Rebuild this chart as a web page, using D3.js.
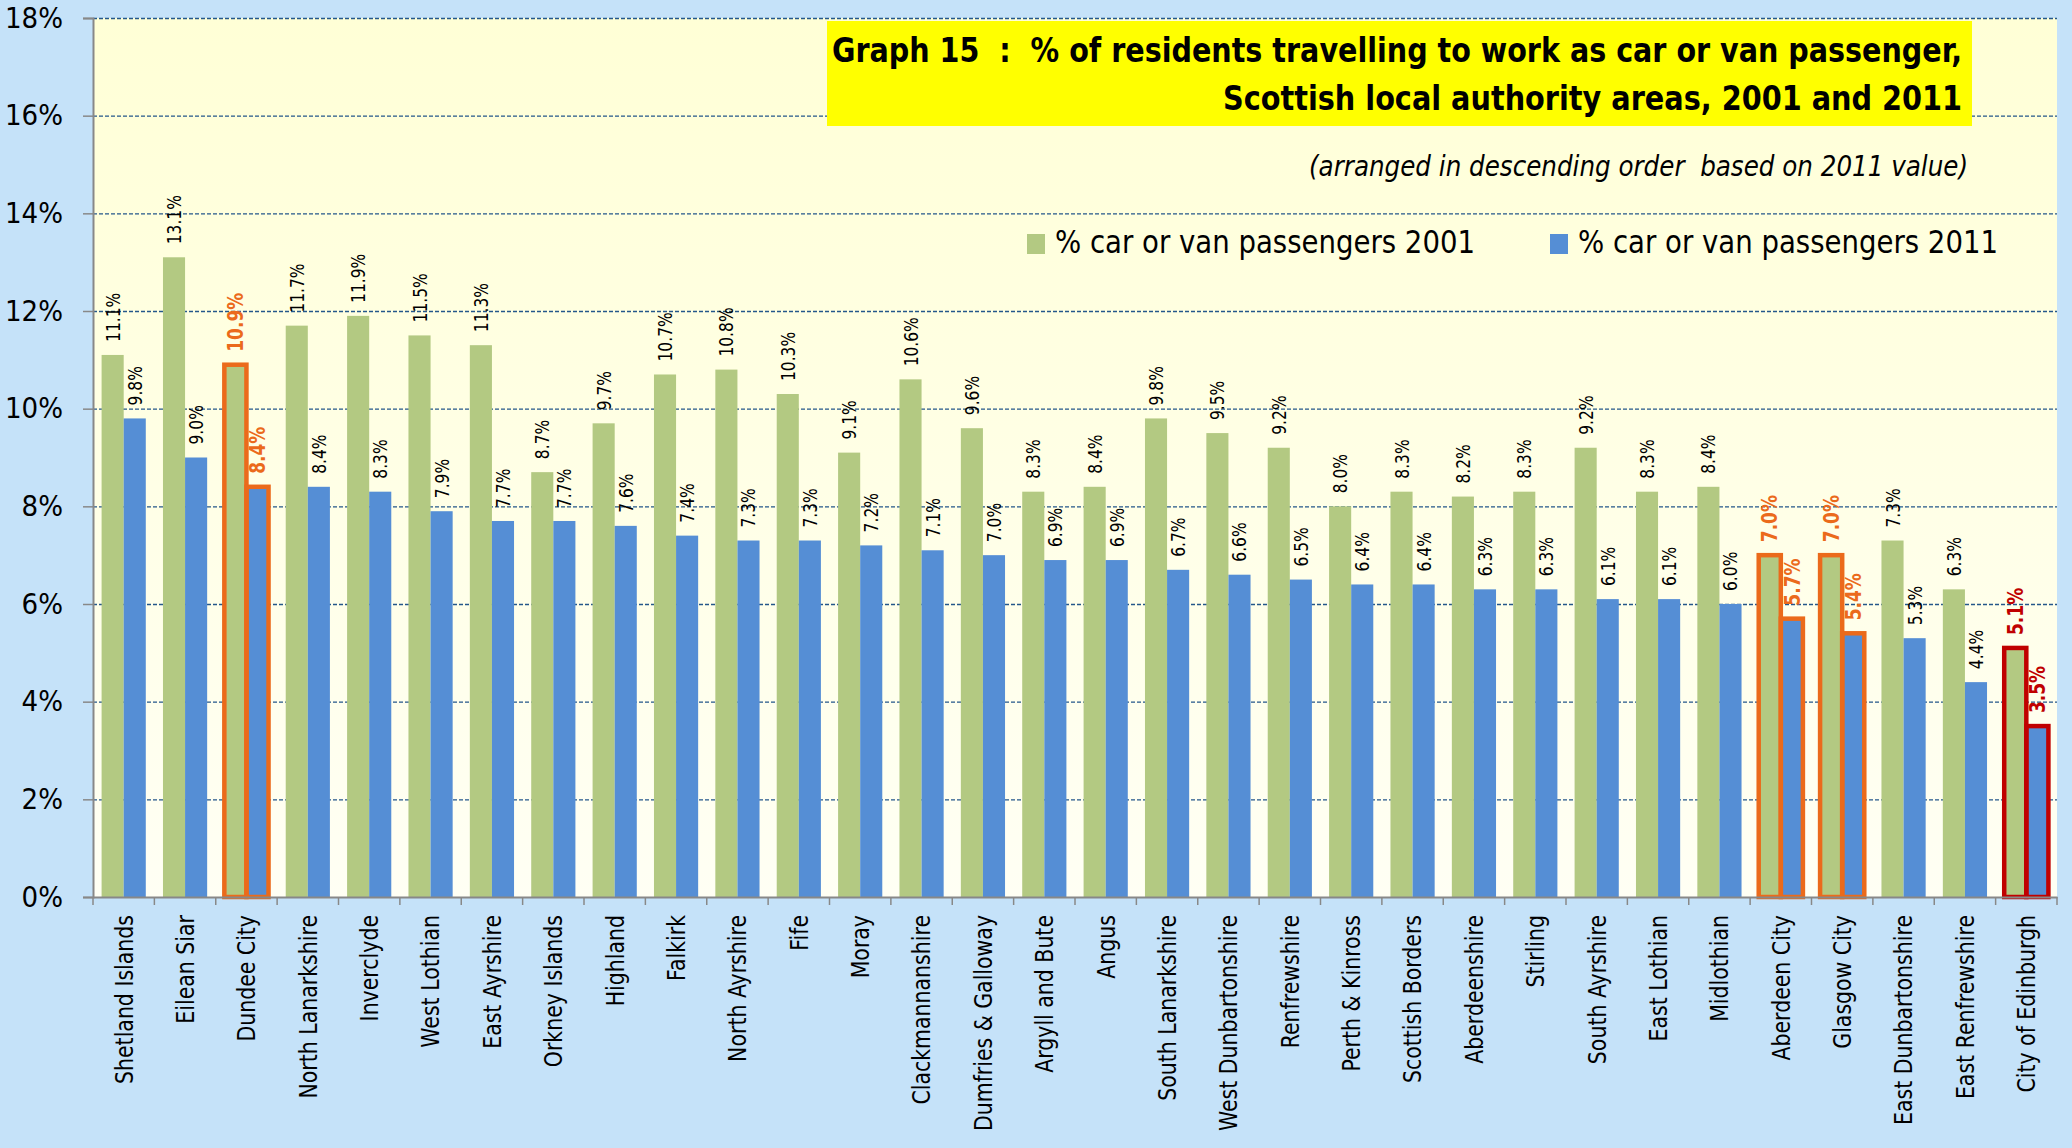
<!DOCTYPE html>
<html>
<head>
<meta charset="utf-8">
<script src="https://cdn.jsdelivr.net/npm/d3@7"></script>
<style>
  body { margin: 0; background: #c5e2f9; }
  svg { display: block; }
</style>
</head>
<body>
<script>
// areas, in descending order of the 2011 value
const categories = [
  "Shetland Islands", "Eilean Siar", "Dundee City", "North Lanarkshire", "Inverclyde",
  "West Lothian", "East Ayrshire", "Orkney Islands", "Highland", "Falkirk",
  "North Ayrshire", "Fife", "Moray", "Clackmannanshire", "Dumfries & Galloway",
  "Argyll and Bute", "Angus", "South Lanarkshire", "West Dunbartonshire", "Renfrewshire",
  "Perth & Kinross", "Scottish Borders", "Aberdeenshire", "Stirling", "South Ayrshire",
  "East Lothian", "Midlothian", "Aberdeen City", "Glasgow City", "East Dunbartonshire",
  "East Renfrewshire", "City of Edinburgh"
];
const values2001 = [
  11.1, 13.1, 10.9, 11.7, 11.9, 11.5, 11.3, 8.7, 9.7, 10.7,
  10.8, 10.3, 9.1, 10.6, 9.6, 8.3, 8.4, 9.8, 9.5, 9.2,
  8.0, 8.3, 8.2, 8.3, 9.2, 8.3, 8.4, 7.0, 7.0, 7.3,
  6.3, 5.1
];
const values2011 = [
  9.8, 9.0, 8.4, 8.4, 8.3, 7.9, 7.7, 7.7, 7.6, 7.4,
  7.3, 7.3, 7.2, 7.1, 7.0, 6.9, 6.9, 6.7, 6.6, 6.5,
  6.4, 6.4, 6.3, 6.3, 6.1, 6.1, 6.0, 5.7, 5.4, 5.3,
  4.4, 3.5
];
const seriesNames = ["% car or van passengers 2001", "% car or van passengers 2011"];
const yTicks = [0, 2, 4, 6, 8, 10, 12, 14, 16, 18];
const orangeAreas = ["Dundee City", "Aberdeen City", "Glasgow City"];
const redAreas = ["City of Edinburgh"];

const W = 2072, H = 1148;
const plotL = 93, plotR = 2057, plotT = 18, plotB = 897;
const colors = ["#b3c982", "#558ed5"];
const narrow = "'Liberation Sans Narrow', 'DejaVu Sans Condensed', sans-serif";
const stretch = 1.25; // rotated labels look tall in the original

const svg = d3.select("body").append("svg")
  .attr("width", W)
  .attr("height", H);

const defs = svg.append("defs");
const grad = defs.append("linearGradient")
  .attr("id", "plotbg")
  .attr("x1", 0).attr("y1", 0).attr("x2", 0).attr("y2", 1);
grad.append("stop").attr("offset", "0%").attr("stop-color", "#ffffd6");
grad.append("stop").attr("offset", "100%").attr("stop-color", "#fffff4");

svg.append("rect")
  .attr("width", W).attr("height", H)
  .attr("fill", "#c5e2f9");

svg.append("rect")
  .attr("x", plotL).attr("y", plotT)
  .attr("width", plotR - plotL).attr("height", plotB - plotT)
  .attr("fill", "url(#plotbg)");

const x0 = d3.scaleBand()
  .domain(categories)
  .range([plotL, plotR])
  .paddingInner(0.28)
  .paddingOuter(0.14);
const x1 = d3.scaleBand()
  .domain([0, 1])
  .range([0, x0.bandwidth()]);
const y = d3.scaleLinear()
  .domain([0, 18])
  .range([plotB, plotT]);

// dashed gridlines
const grid = svg.append("g")
  .attr("transform", `translate(${plotL},0)`)
  .call(d3.axisLeft(y).tickValues(yTicks.slice(1)).tickSize(-(plotR - plotL)).tickFormat(""));
grid.select(".domain").remove();
grid.selectAll("line")
  .attr("stroke", "#24578a")
  .attr("stroke-width", 1.4)
  .attr("stroke-dasharray", "4,2");

// bars
const rows = categories.map((c, i) => ({ area: c, vals: [values2001[i], values2011[i]] }));

const groups = svg.append("g").selectAll("g")
  .data(rows)
  .join("g")
  .attr("transform", d => `translate(${x0(d.area)},0)`);

groups.selectAll("rect.bar")
  .data(d => d.vals.map((v, k) => ({ area: d.area, v: v, k: k })))
  .join("rect")
  .attr("class", "bar")
  .attr("x", d => x1(d.k))
  .attr("y", d => y(d.v))
  .attr("width", x1.bandwidth())
  .attr("height", d => y(0) - y(d.v))
  .attr("fill", d => colors[d.k]);

// outlines for the city areas
const hlColor = a => orangeAreas.includes(a) ? "#eb6a1b" : (redAreas.includes(a) ? "#c00000" : null);

groups.filter(d => hlColor(d.area))
  .selectAll("rect.hl")
  .data(d => d.vals.map((v, k) => ({ area: d.area, v: v, k: k })))
  .join("rect")
  .attr("class", "hl")
  .attr("x", d => x1(d.k))
  .attr("y", d => y(d.v))
  .attr("width", x1.bandwidth())
  .attr("height", d => y(0) - y(d.v))
  .attr("fill", "none")
  .attr("stroke", d => hlColor(d.area))
  .attr("stroke-width", 4.5);

// value labels
groups.selectAll("text.val")
  .data(d => d.vals.map((v, k) => ({ area: d.area, v: v, k: k })))
  .join("text")
  .attr("class", "val")
  .attr("transform", d => `translate(${x1(d.k) + x1.bandwidth() / 2},${y(d.v) - 13}) rotate(-90) scale(1,${stretch})`)
  .attr("dy", "0.36em")
  .attr("font-family", "'DejaVu Sans', sans-serif")
  .attr("font-size", d => hlColor(d.area) ? 17 : 15.5)
  .attr("font-weight", d => hlColor(d.area) ? "bold" : "normal")
  .attr("fill", d => hlColor(d.area) || "#000")
  .text(d => d.v.toFixed(1) + "%");

// y axis
const yAxis = svg.append("g")
  .attr("transform", `translate(${plotL},0)`)
  .call(d3.axisLeft(y).tickValues(yTicks).tickSize(10).tickPadding(20).tickFormat(d => d + "%"));
yAxis.select(".domain").attr("stroke", "#888").attr("stroke-width", 2);
yAxis.selectAll("line").attr("stroke", "#888").attr("stroke-width", 1.5);
yAxis.selectAll("text")
  .attr("font-family", narrow)
  .attr("font-size", 29)
  .attr("fill", "#000");

// x axis
const xAxis = svg.append("g")
  .attr("transform", `translate(0,${plotB})`)
  .call(d3.axisBottom(x0).tickSize(0).tickPadding(0));
xAxis.select(".domain").attr("stroke", "#888").attr("stroke-width", 2);
xAxis.selectAll(".tick text")
  .attr("transform", `translate(0,18) rotate(-90) scale(1,1.2)`)
  .attr("y", 0)
  .attr("x", 0)
  .attr("dy", "0.36em")
  .attr("text-anchor", "end")
  .attr("font-family", "'DejaVu Sans', sans-serif")
  .attr("font-size", 20.5)
  .attr("fill", "#000");

xAxis.selectAll("line.sep")
  .data(d3.range(categories.length + 1))
  .join("line")
  .attr("class", "sep")
  .attr("x1", i => plotL + i * x0.step())
  .attr("x2", i => plotL + i * x0.step())
  .attr("y1", 0)
  .attr("y2", 8)
  .attr("stroke", "#888")
  .attr("stroke-width", 1.5);

// title box
svg.append("rect")
  .attr("x", 827).attr("y", 21)
  .attr("width", 1145).attr("height", 105)
  .attr("fill", "#ffff00");

const titleLines = [
  { text: "Graph 15  :  % of residents travelling to work as car or van passenger,", y: 62, len: 1130 },
  { text: "Scottish local authority areas, 2001 and 2011", y: 110, len: 739 }
];
svg.append("g").selectAll("text")
  .data(titleLines)
  .join("text")
  .attr("x", d => 1962 - d.len)
  .attr("y", d => d.y)
  .attr("textLength", d => d.len)
  .attr("lengthAdjust", "spacingAndGlyphs")
  .style("white-space", "pre")
  .attr("font-family", narrow)
  .attr("font-weight", "bold")
  .attr("font-size", 33)
  .attr("fill", "#000")
  .text(d => d.text);

svg.append("text")
  .attr("x", 1309).attr("y", 176)
  .attr("textLength", 659)
  .attr("lengthAdjust", "spacingAndGlyphs")
  .style("white-space", "pre")
  .attr("font-family", narrow)
  .attr("font-style", "italic")
  .attr("font-size", 28)
  .attr("fill", "#000")
  .text("(arranged in descending order  based on 2011 value)");

// legend
const legendX = [1027, 1550];
const legend = svg.append("g").selectAll("g")
  .data(seriesNames)
  .join("g")
  .attr("transform", (d, i) => `translate(${legendX[i]},234)`);
legend.append("rect")
  .attr("width", 18).attr("height", 20)
  .attr("fill", (d, i) => colors[i]);
legend.append("text")
  .attr("x", 28).attr("y", 19)
  .attr("textLength", 420)
  .attr("lengthAdjust", "spacingAndGlyphs")
  .attr("font-family", narrow)
  .attr("font-size", 32)
  .attr("fill", "#000")
  .text(d => d);
</script>
</body>
</html>
